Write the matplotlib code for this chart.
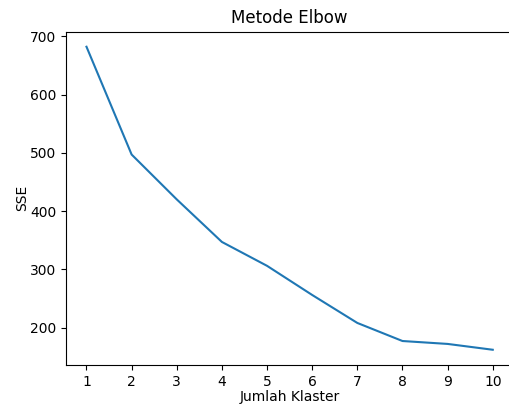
import matplotlib

matplotlib.use("Agg")
import matplotlib.pyplot as plt

k_values = [1, 2, 3, 4, 5, 6, 7, 8, 9, 10]
sse = [682, 497, 420, 347, 306, 256, 208, 177, 172, 162]

fig = plt.figure(figsize=(5.09, 4.05), dpi=100)
ax = fig.add_axes([0.13, 0.099, 0.878, 0.823])
ax.plot(k_values, sse)
ax.set_title("Metode Elbow")
ax.set_xlabel("Jumlah Klaster", labelpad=1)
ax.set_ylabel("SSE", labelpad=1)
ax.set_xticks(k_values)

fig.savefig("out.png", dpi=100)
plt.close(fig)
